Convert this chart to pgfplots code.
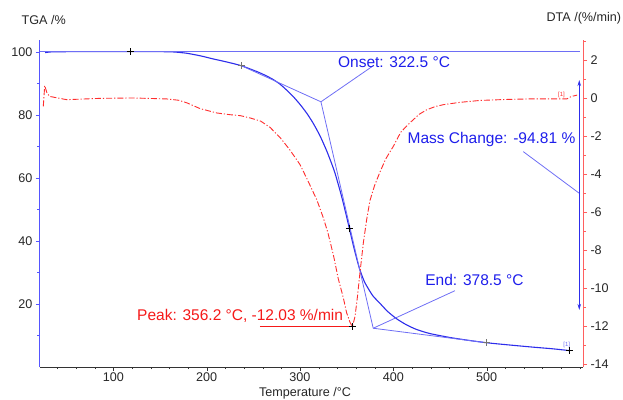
\documentclass[border=0pt]{standalone}
\usepackage{fontspec}
\setmainfont{Liberation Sans}
\usepackage{pgfplots}
\pgfplotsset{compat=1.18}
\usetikzlibrary{arrows.meta}
\definecolor{tblue}{RGB}{45,45,235}
\definecolor{lblue}{RGB}{110,110,245}
\definecolor{dred}{RGB}{255,45,45}
\definecolor{axblue}{RGB}{85,85,255}
\definecolor{axred}{RGB}{255,95,95}
\definecolor{txtblue}{RGB}{30,30,235}
\definecolor{txtred}{RGB}{245,25,25}
\begin{document}
\begin{tikzpicture}
\pgfplotsset{
  common/.style={
    scale only axis, width=543pt, height=326.7pt,
    at={(0,0)}, anchor=south west,
    xmin=21.46, xmax=603.3,
    clip=false,
    /pgf/number format/assume math mode=true,
    tick label style={font=\fontsize{12.6}{14}\selectfont, text=black!85},
    tick align=outside,
    major tick length=4pt, minor tick length=2.5pt,
  }
}
\begin{axis}[common, name=tga,
  ymin=0.1, ymax=103.7,
  axis x line*=bottom, axis y line*=left,
  xtick={100,200,300,400,500}, minor xtick={40,60,...,600},
  ytick={20,40,60,80,100}, minor ytick={10,30,50,70,90},
  x axis line style={black!80, -}, xtick style={black!80},
  y axis line style={axblue, line width=1pt, -}, ytick style={axblue},
  xticklabel style={yshift=1.5pt},
]
% TGA curve
\addplot[tblue, line width=1.1pt, smooth, tension=0.4] coordinates {
(27,99.7)(35,99.95)(60,100)(100,100)(150,100)(165,99.9)(178.6,99.5)(193,98.7)(207,97.7)(222,96.7)(237.6,95.5)(257,93.3)(270,91.4)(278.6,89.7)(285.8,87.8)(293,85.7)(300,83.3)(307,80.6)(314,77.4)(321.5,73.3)(329,68.3)(337,62.0)(344,54.8)(349,48.9)(352.9,44.0)(358,37.6)(363.5,31.5)(369,27.1)(375,24.0)(378.6,22.4)(385.7,20.2)(394,17.6)(403.6,15.3)(414,13.4)(425,11.9)(439.4,10.6)(464,9.2)(500,7.7)(546,6.4)(570,5.8)(589,5.2)
};
% tangent / evaluation lines
\addplot[lblue, line width=0.8pt] coordinates {(21.46,100)(599.6,100)};
\addplot[lblue, line width=0.8pt] coordinates {(237.6,95.5)(322.5,84.1)};
\addplot[lblue, line width=0.8pt] coordinates {(322.5,84.1)(378.5,12.3)};
\addplot[lblue, line width=0.8pt] coordinates {(378.5,12.3)(500,7.7)};
\addplot[lblue, line width=0.8pt] coordinates {(322.5,84.1)(376.9,95.2)};
\addplot[lblue, line width=0.8pt] coordinates {(378.5,12.3)(466.1,24.2)};
\addplot[lblue, line width=0.8pt] coordinates {(539.3,68.3)(599.3,55.1)};
\addplot[tblue, line width=0.9pt, {Stealth[length=6pt,width=3.5pt]}-{Stealth[length=6pt,width=3.5pt]}] coordinates {(599.3,91.0)(599.3,18.1)};
% markers
\addplot[black, only marks, mark=+, mark size=3.5pt, line width=0.8pt] coordinates {(118,100)(352.9,44.0)(589,5.2)};
\addplot[black!55, only marks, mark=+, mark size=3.5pt, line width=0.8pt] coordinates {(237.6,95.5)(500,7.7)};
% labels
\node[font=\fontsize{12.6}{14}\selectfont, text=black!85] at (axis cs:25.4,110.05) {TGA /\%};
\node[font=\fontsize{12.6}{14}\selectfont, text=black!85] at (axis cs:305.4,-8.2) {Temperature /°C};
\node[font=\fontsize{15.5}{18}\selectfont, text=txtblue] at (axis cs:400.8,96.8) {Onset: 322.5 °C};
\node[font=\fontsize{15.5}{18}\selectfont, text=txtblue] at (axis cs:487,27.6) {End: 378.5 °C};
\node[font=\fontsize{15.5}{18}\selectfont, text=txtblue] at (axis cs:505.2,72.0) {Mass Change: -94.81 \%};
\node[font=\fontsize{15.5}{18}\selectfont, text=txtred] at (axis cs:235.9,16.2) {Peak: 356.2 °C, -12.03 \%/min};
\node[font=\fontsize{6}{7}\selectfont, text=lblue] at (axis cs:585.8,6.9) {[1]};
\end{axis}
\begin{axis}[common,
  ymin=-14.14, ymax=3.05,
  axis x line=none, axis y line*=right,
  ytick={-14,-12,...,2}, minor ytick={-13,-11,...,3},
  y axis line style={axred, line width=1pt, -}, ytick style={axred},
]
\addplot[dred, line width=0.9pt, dash pattern=on 6pt off 2pt on 1.2pt off 2pt] coordinates {
(25,-0.44)(26.5,0.65)(29,0.25)(32,0.08)(50,-0.09)(86,-0.02)(121,0)(157,-0.05)(170,-0.12)(179,-0.26)(193,-0.56)(211,-0.79)(225,-0.88)(236,-0.93)(246.5,-1.05)(258,-1.22)(268,-1.55)(279,-2.1)(289,-2.72)(300,-3.5)(307,-4.2)(318,-5.35)(325,-6.3)(330,-7.1)(336,-8.3)(341,-9.5)(346.4,-10.5)(350,-11.3)(353.6,-11.8)(356.2,-12.03)(359,-11.5)(361.5,-10.5)(364.3,-9.2)(368,-7.6)(371.5,-6.4)(375,-5.4)(380,-4.6)(385.7,-3.9)(392,-3.2)(400,-2.55)(408,-1.8)(418,-1.3)(428,-0.85)(436,-0.62)(445,-0.45)(454,-0.35)(471.5,-0.23)(493,-0.13)(520,-0.08)(546.5,-0.05)(586,-0.05)(591,0.08)(597,0.15)
};
\addplot[txtred, line width=0.8pt] coordinates {(257,-12.03)(356.2,-12.03)};
\addplot[black, only marks, mark=+, mark size=3.5pt, line width=0.8pt] coordinates {(356.2,-12.03)};
\node[font=\fontsize{12.6}{14}\selectfont, text=black!85] at (axis cs:604.2,4.2) {DTA /(\%/min)};
\node[font=\fontsize{6}{7}\selectfont, text=dred] at (axis cs:580.3,0.17) {[1]};
\end{axis}
\pgfresetboundingbox
\path[use as bounding box] (tga.south west) ++(-40pt,-32.3pt) rectangle ++(623pt,399pt);
\end{tikzpicture}
\end{document}
